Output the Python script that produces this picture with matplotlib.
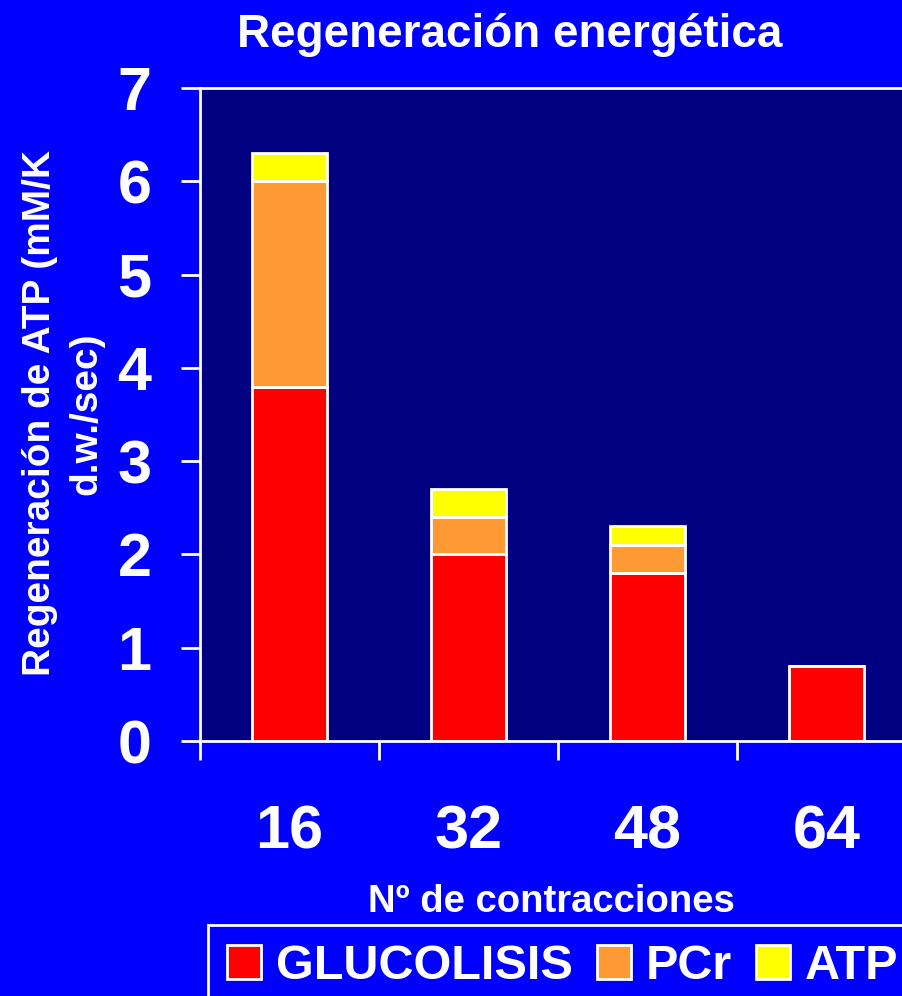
import numpy as np
import matplotlib.pyplot as plt
from matplotlib.ticker import FixedLocator

plt.rcParams['font.family'] = ['Liberation Sans', 'DejaVu Sans']
plt.rcParams['font.weight'] = 'bold'

# Data
contracciones = ['16', '32', '48', '64']
glucolisis = [3.8, 2.0, 1.8, 0.8]
pcr = [2.2, 0.4, 0.3, 0.0]
atp = [0.3, 0.3, 0.2, 0.0]

fig_bg = '#0000ff'
ax_bg = '#000080'

fig = plt.figure(figsize=(9.03, 9.96), dpi=100, facecolor=fig_bg)
ax = fig.add_axes([0.2215, 0.256, 0.793, 0.6556], facecolor=ax_bg)

x = np.arange(len(contracciones))
w = 0.42
g = np.array(glucolisis)
p = np.array(pcr)
a = np.array(atp)

ax.bar(x, g, w, color='#ff0000', edgecolor='white', linewidth=2, label='GLUCOLISIS')
ax.bar(x, p, w, bottom=g, color='#ff9933', edgecolor='white', linewidth=2, label='PCr')
ax.bar(x, a, w, bottom=g + p, color='#ffff00', edgecolor='white', linewidth=2, label='ATP')

ax.set_xlim(-0.5, 3.5)
ax.set_ylim(0, 7)
ax.set_yticks(range(8))
ax.set_xticks(x)
ax.set_xticklabels(contracciones)
ax.xaxis.set_minor_locator(FixedLocator([-0.5, 0.5, 1.5, 2.5, 3.5]))

for s in ax.spines.values():
    s.set_color('white')
    s.set_linewidth(2)
ax.spines['right'].set_visible(False)

ax.tick_params(axis='y', colors='white', labelsize=44, length=14, width=2, pad=21)
ax.tick_params(axis='x', which='major', colors='white', labelsize=44, length=0, pad=46)
ax.tick_params(axis='x', which='minor', colors='white', length=14, width=2)
for lbl in ax.get_xticklabels() + ax.get_yticklabels():
    lbl.set_fontweight('bold')

fig.text(0.564, 0.965, 'Regeneración energética', color='white', fontsize=33,
         fontweight='bold', ha='center', va='center')
fig.text(0.611, 0.094, 'Nº de contracciones', color='white', fontsize=27.5,
         fontweight='bold', ha='center', va='center')
fig.text(0.070, 0.585, 'Regeneración de ATP (mM/K\nd.w./sec)', color='white',
         fontsize=28, fontweight='bold', ha='center', va='center',
         rotation=90, linespacing=1.35)

leg = fig.legend(loc='upper left', bbox_to_anchor=(0.2303, 1 - 925 / 996), ncol=3,
                 frameon=True, facecolor=fig_bg, edgecolor='white', fancybox=False,
                 prop={'size': 35, 'weight': 'bold'}, labelcolor='white',
                 handlelength=0.7, handleheight=0.7, handletextpad=0.3,
                 columnspacing=0.5, borderpad=0.4, borderaxespad=0)
leg.get_frame().set_linewidth(2)
leg.get_frame().set_alpha(1)

fig.savefig('out.png', dpi=100, facecolor=fig_bg)
